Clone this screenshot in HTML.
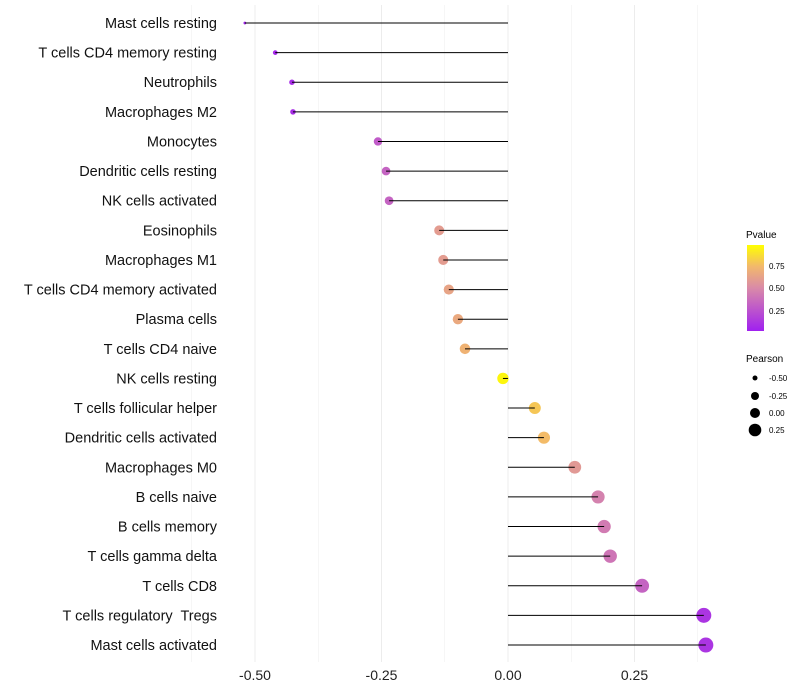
<!DOCTYPE html>
<html><head><meta charset="utf-8"><style>
body{margin:0;background:#fff;font-family:"Liberation Sans",sans-serif}
svg{display:block}
text{white-space:pre}
</style></head><body>
<svg id="chart" width="800" height="700" xmlns="http://www.w3.org/2000/svg">
<defs><linearGradient id="pg" x1="0" y1="1" x2="0" y2="0">
<stop offset="0" stop-color="#a020f0"/><stop offset="0.5" stop-color="#d98aa8"/><stop offset="0.75" stop-color="#f2b86c"/><stop offset="1" stop-color="#ffff00"/></linearGradient></defs>
<g id="grid"></g>
<g id="points"></g>
<g id="marks"></g>
<g id="ylabels"></g>
<g id="xlabels"></g>
<g font-size="10" fill="#000">
<text x="746" y="238">Pvalue</text>
<rect x="747" y="245" width="17" height="86" fill="url(#pg)"/>
<text x="769" y="269" font-size="8">0.75</text>
<text x="769" y="291" font-size="8">0.50</text>
<text x="769" y="314" font-size="8">0.25</text>
</g>
<g font-size="8" fill="#000">
<text x="746" y="362" font-size="10">Pearson</text>
<circle cx="755" cy="378" r="2.5"/><text x="769" y="381">-0.50</text>
<circle cx="755" cy="396" r="4"/><text x="769" y="399">-0.25</text>
<circle cx="755" cy="413" r="5"/><text x="769" y="416">0.00</text>
<circle cx="755" cy="430" r="6.3"/><text x="769" y="433">0.25</text>
</g>
</svg>
<script>
const categories=["Mast cells resting","T cells CD4 memory resting","Neutrophils","Macrophages M2","Monocytes","Dendritic cells resting","NK cells activated","Eosinophils","Macrophages M1","T cells CD4 memory activated","Plasma cells","T cells CD4 naive","NK cells resting","T cells follicular helper","Dendritic cells activated","Macrophages M0","B cells naive","B cells memory","T cells gamma delta","T cells CD8","T cells regulatory  Tregs","Mast cells activated"];
const pearson=[-0.52,-0.46,-0.427,-0.425,-0.257,-0.241,-0.235,-0.136,-0.128,-0.117,-0.099,-0.085,-0.01,0.053,0.071,0.132,0.178,0.19,0.202,0.265,0.387,0.391];
const pvalue=[0.02,0.04,0.06,0.06,0.28,0.32,0.32,0.6,0.6,0.64,0.67,0.72,0.97,0.8,0.76,0.58,0.46,0.43,0.4,0.32,0.1,0.1];
const xTicks=[-0.5,-0.25,0,0.25];
const xTickLabels=["-0.50","-0.25","0.00","0.25"];
const NS="http://www.w3.org/2000/svg";
const xs=v=>508+v*506, ys=i=>23+i*29.62;
function mk(t,a,p){const e=document.createElementNS(NS,t);for(const k in a)e.setAttribute(k,a[k]);p.appendChild(e);return e;}
function lerp(a,b,t){return a.map((x,i)=>Math.round(x+(b[i]-x)*t));}
const stops=[[0,[160,32,240]],[0.5,[217,138,168]],[0.75,[242,184,108]],[1,[255,255,0]]];
function col(p){for(let i=1;i<stops.length;i++){if(p<=stops[i][0]){const t=(p-stops[i-1][0])/(stops[i][0]-stops[i-1][0]);const c=lerp(stops[i-1][1],stops[i][1],t);return `rgb(${c})`;}}return "rgb(255,255,0)";}
const grid=document.getElementById('grid'),marks=document.getElementById('marks'),pts=document.getElementById('points'),yl=document.getElementById('ylabels'),xl=document.getElementById('xlabels');
for(let k=-5;k<=3;k++){const v=k*0.125;const l=mk('line',{x1:xs(v),x2:xs(v),y1:5,y2:662,stroke:'#ececec','stroke-width':k%2===0?1:0.5},grid);

}
xTicks.forEach((v,i)=>{const t=mk('text',{x:xs(v),y:680,'text-anchor':'middle','font-size':14,fill:'#222'},xl);t.textContent=xTickLabels[i];

});
categories.forEach((c,i)=>{const y=ys(i);
const t=mk('text',{x:217,y:y+5,'text-anchor':'end','font-size':14.5,fill:'#111'},yl);t.textContent=c;


const r=Math.sqrt(Math.max(2,2+(pearson[i]+0.52)*59.3));
const d=mk('circle',{cx:xs(pearson[i]),cy:y,r:r,fill:col(pvalue[i])},pts);


const l=mk('line',{x1:xs(0),x2:xs(pearson[i]),y1:y,y2:y,stroke:'#000','stroke-width':1},marks);

});
</script>
</body></html>
